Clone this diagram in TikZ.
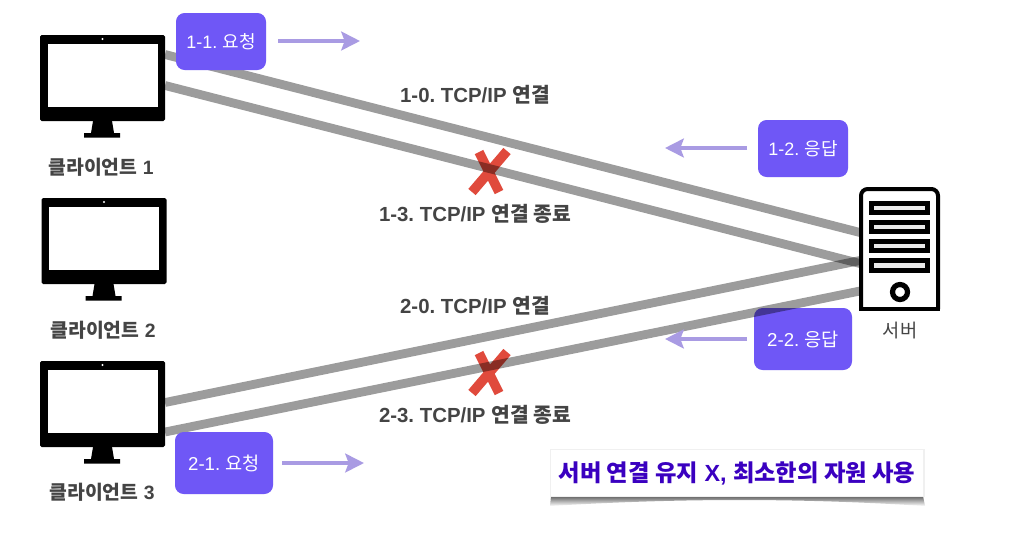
\documentclass[tikz,border=0pt]{standalone}
\usepackage{fontspec}
\setmainfont{Liberation Sans}
\newfontfamily\kofont{Noto Sans CJK KR}
\newcommand{\ko}[1]{{\kofont #1}}
\usetikzlibrary{arrows.meta}
\definecolor{boxviolet}{HTML}{6F57F6}
\definecolor{arrowviolet}{HTML}{A99BE3}
\definecolor{crossred}{HTML}{E04A3C}
\definecolor{labelgray}{HTML}{444444}
\definecolor{noteblue}{HTML}{3A00C0}
\frenchspacing
\tikzset{
  wire/.style={draw=black,draw opacity=0.39,line width=6.6pt},
  stepbox/.style={rectangle,rounded corners=6.5pt,fill=boxviolet,text=white,font=\fontsize{13.5}{15}\selectfont,inner sep=0pt,anchor=center},
  bigstepbox/.style={stepbox,font=\fontsize{14}{15}\selectfont,minimum width=73.5pt,minimum height=46.5pt},
  smallstepbox/.style={stepbox,minimum width=67.5pt,minimum height=42.75pt},
  flow/.style={draw=arrowviolet,line width=3.4pt,-{Stealth[length=14pt,width=14pt,inset=2.5pt,fill=arrowviolet]}},
  wirelabel/.style={text=labelgray,font=\bfseries\fontsize{15.3}{17}\selectfont,inner sep=0pt},
  clientlabel/.style={text=labelgray,font=\bfseries\fontsize{14.5}{17}\selectfont,inner sep=0pt},
  crossbar/.style={draw=crossred,line width=7.2pt},
  drawer/.style={rectangle,draw=black,fill=black!8,line width=3.9pt,minimum width=41.5pt,minimum height=7pt,inner sep=0pt},
}
\newcommand{\monitor}[3]{%
  \begin{scope}[shift={(#2,#3)}]
    \node[rectangle,fill=black,rounded corners=1.2pt,minimum width=93.75pt,minimum height=64.5pt,inner sep=0pt] (#1) at (62.5,43) {};
    \fill[white] (7.5,8.5) rectangle (117.5,72);
    \fill[white] (62.5,4) circle (1.2);
    \fill[black] (53,86) -- (72,86) -- (74,98) -- (80,98) -- (80,102.5) -- (44,102.5) -- (44,98) -- (51,98) -- cycle;
  \end{scope}}
\begin{document}
\begin{tikzpicture}[x=0.75pt,y=-0.75pt]
\useasboundingbox[fill=white] (0,0) rectangle (1030,540);

% boxes beneath the wires
\node[bigstepbox] (b22) at (803,339) {2-2. \ko{응답}};
\node[smallstepbox] (b12) at (803,148.5) {1-2. \ko{응답}};

% crosses
\coordinate (x1a) at (479,152); \coordinate (x1b) at (499,192);
\coordinate (x1c) at (507,151); \coordinate (x1d) at (472,192);
\coordinate (x2a) at (479,353); \coordinate (x2b) at (499,393);
\coordinate (x2c) at (507,352); \coordinate (x2d) at (472,393);
\draw[crossbar] (x1a) -- (x1b);
\draw[crossbar] (x1c) -- (x1d);
\draw[crossbar] (x2a) -- (x2b);
\draw[crossbar] (x2c) -- (x2d);

% wires
\coordinate (c1a) at (165,54.5);  \coordinate (s1a) at (860,232.5);
\coordinate (c1b) at (165,85.5);  \coordinate (s1b) at (860,263.5);
\coordinate (c3a) at (165,402.5); \coordinate (s3a) at (860,260.5);
\coordinate (c3b) at (165,432);   \coordinate (s3b) at (860,291);
\draw[wire] (c1a) -- (s1a);
\draw[wire] (c1b) -- (s1b);
\draw[wire] (c3a) -- (s3a);
\draw[wire] (c3b) -- (s3b);

% monitors
\monitor{m1}{40}{35}
\monitor{m2}{41.5}{198}
\monitor{m3}{40}{361}

% boxes above the wires
\node[smallstepbox] (b11) at (221,41.5) {1-1. \ko{요청}};
\node[bigstepbox] (b21) at (224,463) {2-1. \ko{요청}};

% flow arrows
\coordinate (a11s) at (278,41);  \coordinate (a11e) at (360,41);
\coordinate (a12s) at (747,148); \coordinate (a12e) at (665,148);
\coordinate (a21s) at (282,463); \coordinate (a21e) at (364,463);
\coordinate (a22s) at (747,339); \coordinate (a22e) at (665,339);
\draw[flow] (a11s) -- (a11e);
\draw[flow] (a12s) -- (a12e);
\draw[flow] (a21s) -- (a21e);
\draw[flow] (a22s) -- (a22e);

% server
\fill[white] (861,189) rectangle (938,309);
\draw[black,line width=3pt,rounded corners=5pt] (861,309) -- (861,189) -- (938,189) -- (938,309);
\draw[black,line width=3pt] (859,309) -- (940,309);
\node[drawer] (d1) at (899.5,208) {};
\node[drawer] (d2) at (899.5,227) {};
\node[drawer] (d3) at (899.5,246) {};
\node[drawer] (d4) at (899.5,265.5) {};
\draw[black,line width=3.9pt,fill=white] (900,292) circle (7.5);

% labels
\node[clientlabel] (l1) at (101,167) {\ko{클라이언트} 1};
\node[clientlabel] (l2) at (103,330) {\ko{클라이언트} 2};
\node[clientlabel] (l3) at (102,492) {\ko{클라이언트} 3};
\node[text=labelgray,font=\fontsize{14}{16}\selectfont,inner sep=0pt] (srv) at (900,331) {\ko{서버}};
\node[wirelabel] (t10) at (475,95) {1-0. TCP/IP \ko{연결}};
\node[wirelabel] (t13) at (475,214) {1-3. TCP/IP \ko{연결 종료}};
\node[wirelabel] (t20) at (475,306) {2-0. TCP/IP \ko{연결}};
\node[wirelabel] (t23) at (475,415) {2-3. TCP/IP \ko{연결 종료}};

% note
\shade[top color=black!62,bottom color=white] (551,496) -- (923,496) -- (925,506) .. controls (800,498) and (680,498) .. (550,506) -- cycle;
\fill[black!6] (549.5,449) rectangle (924.5,496.5);
\node[rectangle,fill=white,minimum width=279pt,minimum height=34.5pt,inner sep=0pt,text=noteblue,font=\bfseries\fontsize{17.5}{20}\selectfont] (note) at (737,473) {\ko{서버 연결 유지} X, \ko{최소한의 자원 사용}};
\end{tikzpicture}
\end{document}
